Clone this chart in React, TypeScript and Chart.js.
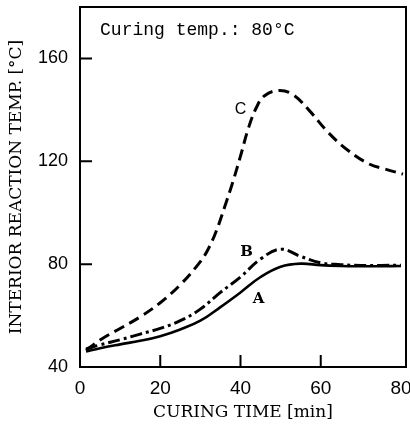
import React, { useEffect, useRef } from "react";
import { Chart, registerables } from "chart.js";

Chart.register(...registerables);

const timeA = [1.5, 5, 10, 15, 20, 25, 30, 35, 40, 45, 50, 55, 60, 65, 70, 75, 80];
const tempA = [46, 47.3, 48.8, 50.2, 52, 54.6, 58, 63.3, 69, 75, 79, 80.2, 79.6, 79.3, 79.2, 79.2, 79.3];

const timeB = [1.5, 5, 10, 15, 20, 25, 30, 35, 40, 45, 50, 55, 60, 65, 70, 75, 80];
const tempB = [47, 48.6, 50.6, 52.8, 55, 58, 62.5, 69, 75, 82, 85.8, 83, 80.5, 79.8, 79.5, 79.5, 79.6];

const timeC = [1.5, 5, 10, 15, 20, 25, 30, 32, 34, 36, 38, 40, 42, 44, 46, 49.5, 53, 57, 62, 67, 72, 76, 80.5];
const tempC = [46.5, 50.5, 55, 59.5, 65, 72, 81, 86, 93, 102, 111.5, 122, 133, 141, 145.5, 147.5, 146, 140, 131, 124, 119, 117, 115];

const xTicks = [0, 20, 40, 60, 80];
const yTicks = [40, 80, 120, 160];

const curveLabels = ["A", "B", "C"];
const curveLabelX = [44.5, 41.5, 40];
const curveLabelY = [66.5, 84.5, 140];

const noteText = "Curing temp.: 80°C";
const noteX = 5;
const noteY = 171;

const xTitle = "CURING TIME [min]";
const yTitle = "INTERIOR REACTION TEMP. [°C]";

function pts(xs: number[], ys: number[]) {
  return xs.map((x, i) => ({ x, y: ys[i] }));
}

const framePlugin = {
  id: "frameAndTicks",
  afterDraw(chart: any) {
    const { ctx, chartArea, scales } = chart;
    const xs = scales.x;
    const ys = scales.y;
    ctx.save();
    ctx.strokeStyle = "#000";
    ctx.lineWidth = 2;
    ctx.strokeRect(chartArea.left, chartArea.top, chartArea.right - chartArea.left, chartArea.bottom - chartArea.top);
    ctx.beginPath();
    for (const v of yTicks) {
      if (v === yTicks[0]) continue;
      const py = ys.getPixelForValue(v);
      ctx.moveTo(chartArea.left, py);
      ctx.lineTo(chartArea.left + 12, py);
    }
    for (const v of xTicks) {
      if (v === xTicks[0] || v === xTicks[xTicks.length - 1]) continue;
      const px = xs.getPixelForValue(v);
      ctx.moveTo(px, chartArea.bottom);
      ctx.lineTo(px, chartArea.bottom - 12);
    }
    ctx.stroke();

    ctx.fillStyle = "#000";
    ctx.textBaseline = "middle";
    ctx.textAlign = "left";
    ctx.font = "18px 'Liberation Mono'";
    ctx.fillText(noteText, xs.getPixelForValue(noteX), ys.getPixelForValue(noteY));

    ctx.textAlign = "center";
    curveLabels.forEach((t, i) => {
      ctx.font = t === "C" ? "16px 'Liberation Sans'" : "bold 15px 'DejaVu Serif'";
      ctx.fillText(t, xs.getPixelForValue(curveLabelX[i]), ys.getPixelForValue(curveLabelY[i]));
    });
    ctx.restore();
  },
};

export default function App() {
  const ref = useRef<HTMLCanvasElement>(null);
  useEffect(() => {
    if (!ref.current) return;
    const chart = new Chart(ref.current, {
      type: "line",
      data: {
        datasets: [
          {
            label: "A",
            data: pts(timeA, tempA),
            borderColor: "#000",
            borderWidth: 2.6,
            pointRadius: 0,
            tension: 0.4,
            fill: false,
          },
          {
            label: "B",
            data: pts(timeB, tempB),
            borderColor: "#000",
            borderWidth: 3,
            borderDash: [12, 4, 3, 4],
            pointRadius: 0,
            tension: 0.4,
            fill: false,
          },
          {
            label: "C",
            data: pts(timeC, tempC),
            borderColor: "#000",
            borderWidth: 3,
            borderDash: [11, 6],
            pointRadius: 0,
            tension: 0.4,
            fill: false,
          },
        ],
      },
      options: {
        responsive: false,
        animation: false,
        layout: { padding: { top: 7, right: 4, left: 0, bottom: 0 } },
        plugins: { legend: { display: false }, tooltip: { enabled: false } },
        scales: {
          x: {
            type: "linear",
            min: 0,
            max: 81.25,
            afterFit: (s: any) => {
              s.height = 66;
              s.paddingLeft = 0;
              s.paddingRight = 0;
            },
            afterBuildTicks: (s: any) => {
              s.ticks = xTicks.map((v) => ({ value: v }));
            },
            grid: { display: false, drawTicks: false },
            border: { display: false },
            ticks: {
              color: "#000",
              padding: 10,
              maxRotation: 0,
              autoSkip: false,
              font: { family: "'Liberation Sans'", size: 19 },
            },
            title: {
              display: true,
              text: xTitle,
              color: "#000",
              font: { family: "'DejaVu Serif'", size: 17 },
              padding: { top: 0, bottom: 10 },
            },
          },
          y: {
            type: "linear",
            min: 40,
            max: 180,
            afterFit: (s: any) => {
              s.width = 80;
              s.paddingTop = 0;
              s.paddingBottom = 0;
            },
            afterBuildTicks: (s: any) => {
              s.ticks = yTicks.map((v) => ({ value: v }));
            },
            grid: { display: false, drawTicks: false },
            border: { display: false },
            ticks: {
              color: "#000",
              padding: 12,
              autoSkip: false,
              font: { family: "'Liberation Sans'", size: 18 },
            },
            title: {
              display: true,
              text: yTitle,
              color: "#000",
              font: { family: "'DejaVu Serif'", size: 17 },
              padding: { top: 6, bottom: 0 },
            },
          },
        },
      },
      plugins: [framePlugin],
    });
    return () => chart.destroy();
  }, []);
  return (
    <div style={{ position: "absolute", left: 0, top: 0, width: 410, height: 433, background: "#fff" }}>
      <canvas ref={ref} width={410} height={433} />
    </div>
  );
}
